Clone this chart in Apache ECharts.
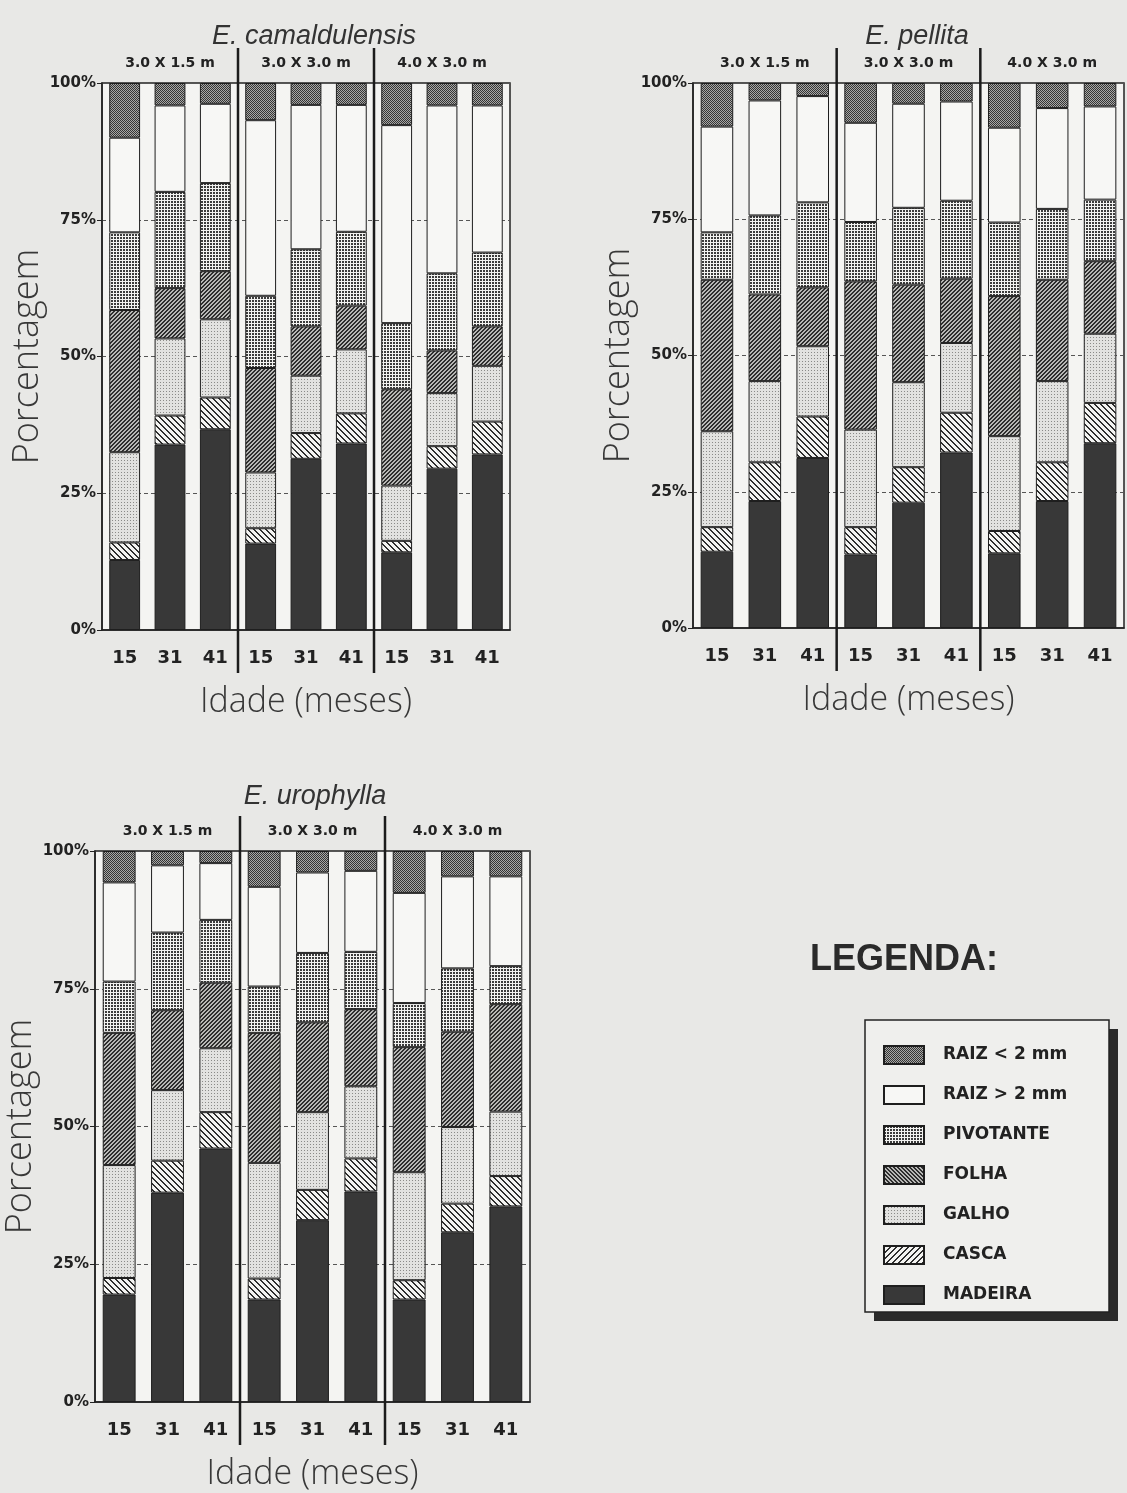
<!DOCTYPE html>
<html>
<head>
<meta charset="utf-8">
<script src="https://cdn.jsdelivr.net/npm/echarts@6.0.0/dist/echarts.min.js"></script>
<style>
  html, body { margin: 0; padding: 0; background: #e8e8e6; }
  #chart { width: 1127px; height: 1493px; }
</style>
</head>
<body>
<div id="chart"></div>
<script>
// Biomass partition (%) by plant component, spacing and age, for three Eucalyptus species.
const species = ['E. camaldulensis', 'E. pellita', 'E. urophylla'];
const spacings = ['3.0 X 1.5 m', '3.0 X 3.0 m', '4.0 X 3.0 m'];
const ages = ['15', '31', '41'];
const components = ['RAIZ < 2 mm', 'RAIZ > 2 mm', 'PIVOTANTE', 'FOLHA', 'GALHO', 'CASCA', 'MADEIRA'];

// One row per component (same order as `components`), nine bars per row:
// spacing 3.0x1.5 (15, 31, 41), 3.0x3.0 (15, 31, 41), 4.0x3.0 (15, 31, 41).
const camaldulensis = [
  [10.0, 4.1, 3.8, 6.8, 4.0, 4.0, 7.7, 4.1, 4.1],
  [17.3, 15.8, 14.5, 32.1, 26.4, 23.2, 36.2, 30.7, 26.9],
  [14.2, 17.6, 16.1, 13.2, 14.1, 13.5, 12.1, 14.1, 13.5],
  [26.0, 9.2, 8.8, 19.1, 9.0, 8.0, 17.6, 7.8, 7.2],
  [16.5, 14.1, 14.3, 10.2, 10.5, 11.7, 10.1, 9.7, 10.2],
  [3.2, 5.3, 5.8, 2.8, 4.7, 5.5, 2.1, 4.1, 6.0],
  [12.8, 33.9, 36.7, 15.8, 31.3, 34.1, 14.2, 29.5, 32.1]
];
const pellita = [
  [8.0, 3.2, 2.4, 7.3, 3.8, 3.4, 8.2, 4.6, 4.3],
  [19.4, 21.1, 19.5, 18.2, 19.1, 18.2, 17.4, 18.5, 17.1],
  [8.7, 14.5, 15.6, 10.9, 14.1, 14.3, 13.5, 13.0, 11.3],
  [27.8, 15.9, 10.8, 27.2, 17.9, 11.8, 25.7, 18.6, 13.3],
  [17.6, 14.9, 12.9, 17.9, 15.6, 12.8, 17.4, 14.9, 12.7],
  [4.5, 7.1, 7.6, 5.0, 6.5, 7.3, 4.1, 7.1, 7.4],
  [14.0, 23.3, 31.2, 13.5, 23.0, 32.2, 13.7, 23.3, 33.9]
];
const urophylla = [
  [5.7, 2.6, 2.2, 6.5, 3.9, 3.6, 7.6, 4.6, 4.6],
  [18.0, 12.2, 10.3, 18.1, 14.6, 14.7, 20.0, 16.7, 16.3],
  [9.3, 14.1, 11.4, 8.4, 12.6, 10.4, 8.0, 11.5, 6.9],
  [24.0, 14.5, 11.9, 23.6, 16.3, 14.0, 22.7, 17.3, 19.5],
  [20.5, 12.8, 11.6, 21.0, 14.1, 13.1, 19.6, 13.9, 11.7],
  [3.0, 5.8, 6.6, 3.8, 5.5, 6.0, 3.5, 5.2, 5.5],
  [19.5, 38.0, 46.0, 18.6, 33.0, 38.2, 18.6, 30.8, 35.5]
];
const speciesValues = [camaldulensis, pellita, urophylla];

// Panel frames on the page
const panels = [
  { left: 102, top: 83, width: 408, height: 547, titleX: 309, titleY: 18 },
  { left: 693, top: 83, width: 431, height: 545, titleX: 912, titleY: 18 },
  { left: 95, top: 851, width: 435, height: 551, titleX: 310, titleY: 778 }
];

// Hatch / stipple fills drawn on small canvas tiles
function tile(size, bg, fg, test) {
  const c = document.createElement('canvas');
  c.width = c.height = size;
  const ctx = c.getContext('2d');
  ctx.fillStyle = bg;
  ctx.fillRect(0, 0, size, size);
  ctx.fillStyle = fg;
  for (let y = 0; y < size; y++) {
    for (let x = 0; x < size; x++) {
      if (test(x, y)) ctx.fillRect(x, y, 1, 1);
    }
  }
  return { image: c, repeat: 'repeat' };
}
const mod = (a, n) => ((a % n) + n) % n;

const barFills = {
  'RAIZ < 2 mm': tile(4, '#a8a8a6', '#353535', (x, y) => (x + y) % 2 === 0),
  'RAIZ > 2 mm': '#f7f7f5',
  'PIVOTANTE': tile(3, '#f3f3f1', '#3c3c3c', (x, y) => x < 2 && y < 2),
  'FOLHA': tile(4, '#b8b8b6', '#2e2e2e', (x, y) => mod(x + y, 4) < 2),
  'GALHO': tile(3, '#e2e2e0', '#8a8a88', (x, y) => x === 1 && y === 1),
  'CASCA': tile(6, '#f3f3f1', '#2e2e2e', (x, y) => mod(x - y, 6) < 2),
  'MADEIRA': '#383838'
};
// Legend swatches use the opposite hatch direction for FOLHA and CASCA
const legendFills = {
  'FOLHA': tile(4, '#b8b8b6', '#2e2e2e', (x, y) => mod(x - y, 4) < 2),
  'CASCA': tile(6, '#f3f3f1', '#2e2e2e', (x, y) => mod(x + y, 6) < 2)
};

const ink = '#222';
const thinFont = "'Open Sans', 'Liberation Sans', sans-serif";
const boldFont = "'DejaVu Sans', sans-serif";

const categories = [];
spacings.forEach(s => ages.forEach(a => categories.push(s + '|' + a)));
const groupStarts = spacings.slice(1).map((s, i) => (i + 1) * ages.length);

const grid = [], xAxis = [], yAxis = [], series = [], title = [];

panels.forEach((p, g) => {
  grid.push({
    left: p.left, top: p.top, width: p.width, height: p.height,
    show: true, backgroundColor: '#f4f4f2', borderColor: ink, borderWidth: 1.5
  });
  title.push({
    text: species[g], left: p.titleX, top: p.titleY, textAlign: 'center',
    textStyle: { fontFamily: "'Liberation Sans', sans-serif", fontStyle: 'italic', fontWeight: 'normal', fontSize: 27, color: '#333' }
  });
  xAxis.push({
    gridIndex: g, type: 'category', data: categories, position: 'bottom',
    axisLine: { lineStyle: { color: ink, width: 1.5 } },
    axisTick: { alignWithLabel: true, length: 5, lineStyle: { color: ink } },
    axisLabel: {
      interval: 0, margin: 19, formatter: v => v.split('|')[1],
      fontFamily: boldFont, fontWeight: 'bold', fontSize: 18, color: ink
    },
    splitLine: { show: false },
    name: 'Idade (meses)', nameLocation: 'middle', nameGap: 55,
    nameTextStyle: { fontFamily: thinFont, fontWeight: 300, fontSize: 34, color: '#383838' }
  });
  xAxis.push({
    gridIndex: g, type: 'category', data: spacings, position: 'top',
    axisLine: { show: false }, axisTick: { show: false }, splitLine: { show: false },
    axisLabel: { interval: 0, margin: 13, fontFamily: boldFont, fontWeight: 'bold', fontSize: 14, color: ink }
  });
  yAxis.push({
    gridIndex: g, type: 'value', min: 0, max: 100, interval: 25,
    axisLine: { show: true, lineStyle: { color: ink, width: 1.5 } },
    axisTick: { show: true, length: 5, lineStyle: { color: ink } },
    axisLabel: { formatter: '{value}%', margin: 6, fontFamily: boldFont, fontWeight: 'bold', fontSize: 15, color: ink },
    splitLine: { show: true, lineStyle: { color: '#555', width: 1, type: [4, 3] } },
    name: 'Porcentagem', nameLocation: 'middle', nameGap: 48,
    nameTextStyle: { fontFamily: thinFont, fontWeight: 300, fontSize: 36, color: '#383838' }
  });

  // stacked columns, MADEIRA at the bottom up to RAIZ < 2 mm at the top
  const values = speciesValues[g];
  for (let k = components.length - 1; k >= 0; k--) {
    series.push({
      type: 'bar', name: components[k], stack: 'panel' + g,
      xAxisIndex: g * 2, yAxisIndex: g, barWidth: '68%',
      itemStyle: { color: barFills[components[k]], borderColor: '#1e1e1e', borderWidth: 1 },
      emphasis: { disabled: true },
      data: values[k]
    });
  }

  // heavy rules separating the spacing groups, running past the frame
  series.push({
    type: 'custom', xAxisIndex: g * 2, yAxisIndex: g, silent: true, clip: false, z: 20,
    data: groupStarts.map(s => [s, 0]),
    renderItem: (params, api) => {
      const idx = api.value(0);
      const a = api.coord([idx - 1, 100]);
      const b = api.coord([idx, 0]);
      const x = (a[0] + b[0]) / 2;
      return {
        type: 'line',
        shape: { x1: x, y1: a[1] - 35, x2: x, y2: b[1] + 43 },
        style: { stroke: '#1b1b1b', lineWidth: 2.5 }
      };
    }
  });
});

const chart = echarts.init(document.getElementById('chart'), null, { renderer: 'canvas' });
chart.setOption({
  backgroundColor: '#e8e8e6',
  animation: false,
  title, grid, xAxis, yAxis, series,
  legend: {
    orient: 'vertical', left: 883, top: 1045, padding: 0,
    itemWidth: 40, itemHeight: 18, itemGap: 20, icon: 'rect', selectedMode: false,
    textStyle: { fontFamily: boldFont, fontWeight: 'bold', fontSize: 17, lineHeight: 18, color: ink, padding: [0, 0, 0, 14] },
    data: components.map(name => legendFills[name]
      ? { name, itemStyle: { color: legendFills[name] } }
      : { name })
  },
  graphic: [
    { type: 'rect', z: -10, shape: { x: 874, y: 1029, width: 244, height: 292 }, style: { fill: '#2a2a2a' } },
    { type: 'rect', z: -9, shape: { x: 865, y: 1020, width: 244, height: 292 }, style: { fill: '#efefed', stroke: ink, lineWidth: 1.5 } },
    { type: 'text', z: -8, x: 810, y: 942, style: { text: 'LEGENDA:', font: "bold 36px 'Liberation Sans', sans-serif", fill: '#2a2a2a' } }
  ]
});
</script>
</body>
</html>
